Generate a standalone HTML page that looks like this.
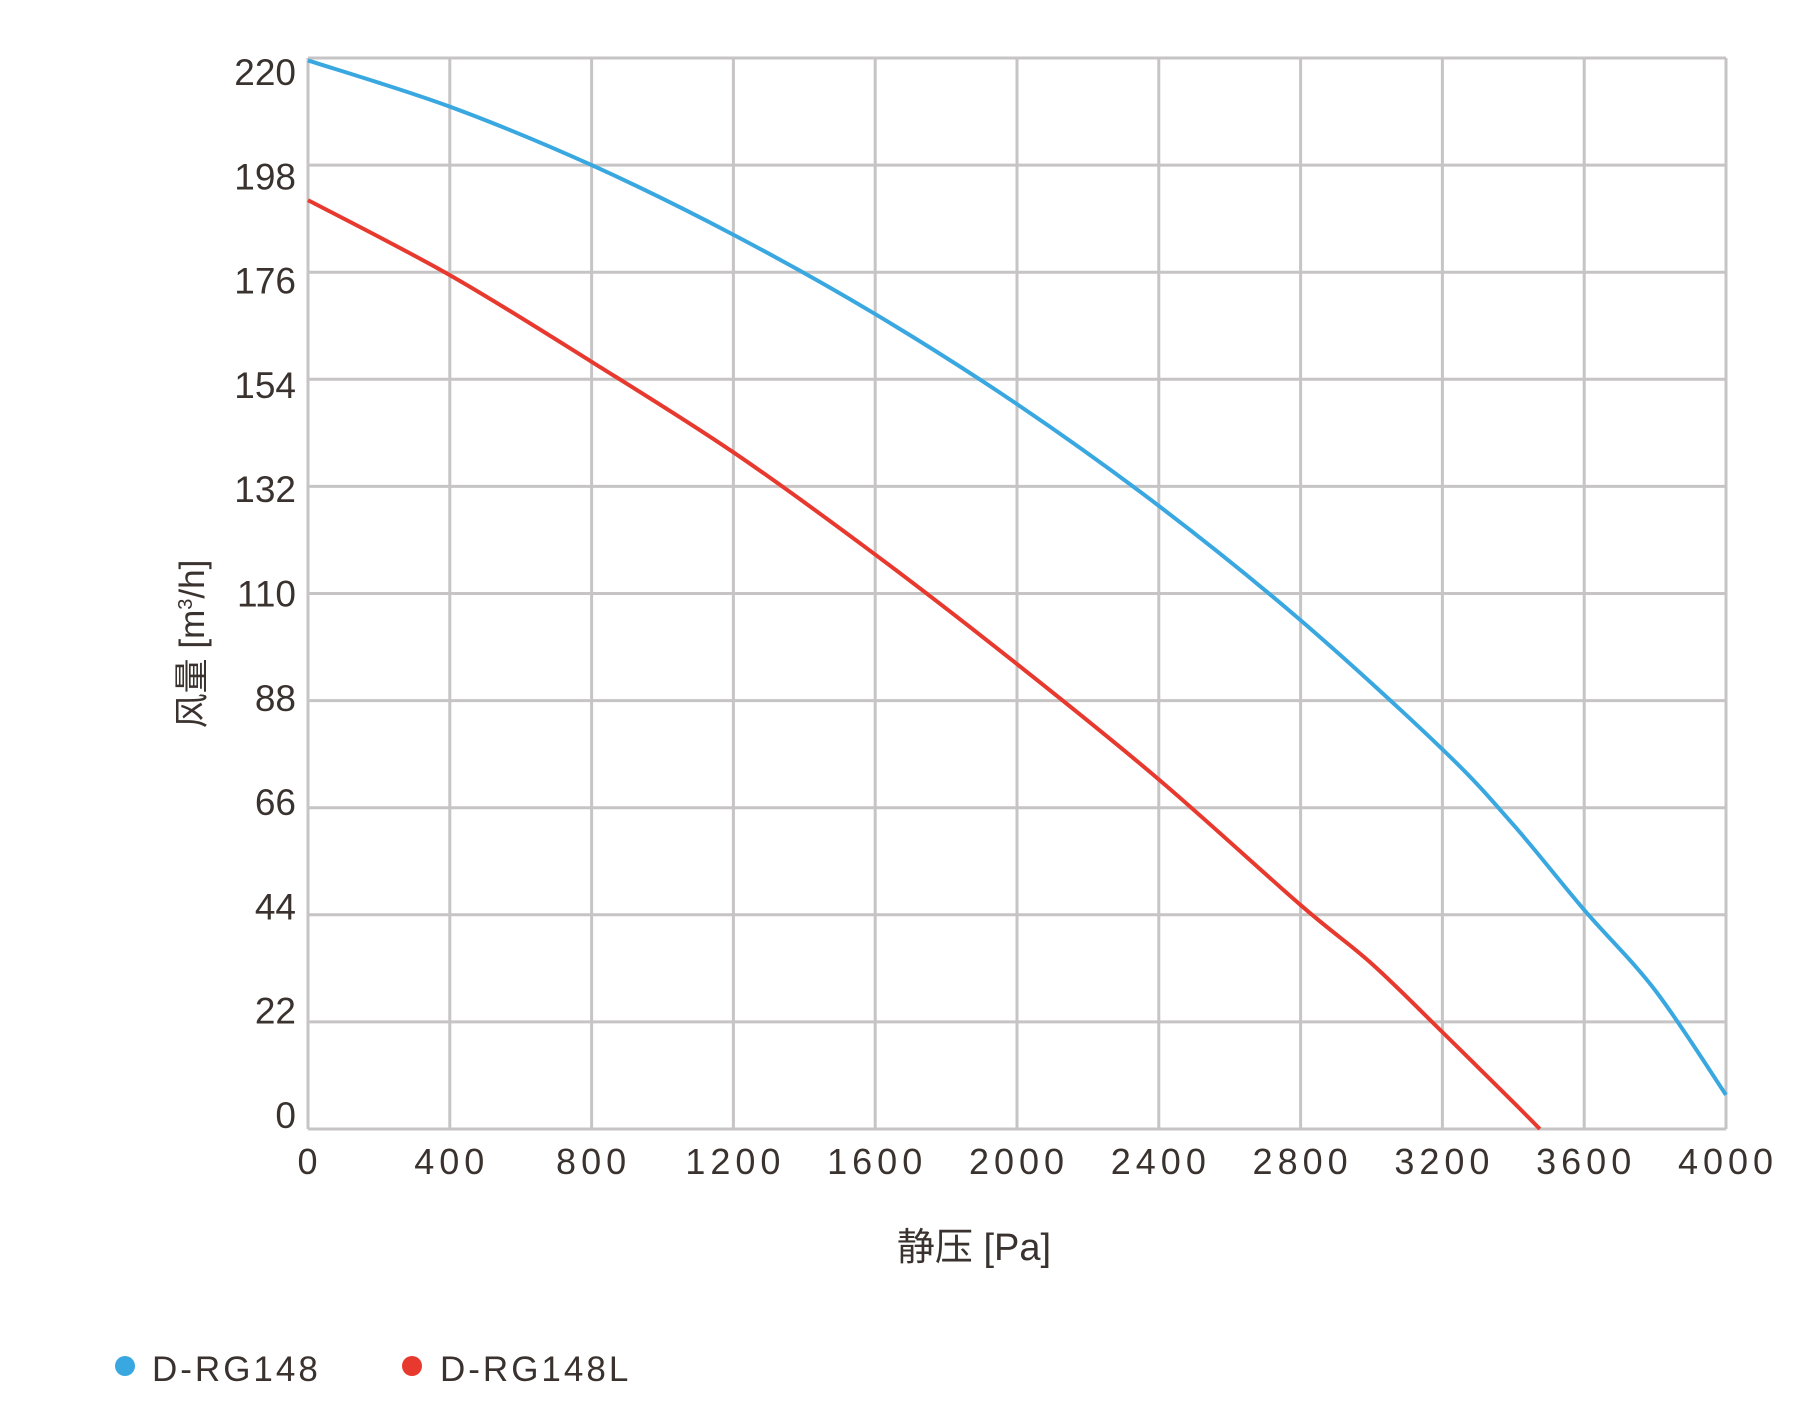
<!DOCTYPE html>
<html><head><meta charset="utf-8"><style>
html,body{margin:0;padding:0;background:#fff;width:1809px;height:1425px;overflow:hidden}
text{font-family:"Liberation Sans","Noto Sans CJK SC",sans-serif;fill:#3a322e}
</style></head><body>
<svg id="chart" width="1809" height="1425" viewBox="0 0 1809 1425" xmlns="http://www.w3.org/2000/svg">
<g id="grid"></g>
<g id="series"></g>
<g id="labels"></g>
<text x="974" y="1260" font-size="38" text-anchor="middle">静压 [Pa]</text>
<text transform="translate(204,644) rotate(-90)" font-size="35" text-anchor="middle">风量 [m<tspan font-size="20" dy="-12">3</tspan><tspan dy="12">/h]</tspan></text>
<g>
<circle cx="125" cy="1366" r="10" fill="#3aa8e0"/>
<text x="152" y="1381" font-size="35" letter-spacing="3">D-RG148</text>
<circle cx="412" cy="1366" r="10" fill="#e8392f"/>
<text x="440" y="1381" font-size="35" letter-spacing="3">D-RG148L</text>
</g>
</svg>
<script>
const xTicks=[0,400,800,1200,1600,2000,2400,2800,3200,3600,4000];
const yTicks=[0,22,44,66,88,110,132,154,176,198,220];
const blueX=[0,400,800,1200,1600,2000,2400,2800,3200,3400,3600,3800,4000];
const blueY=[219.5,210,198,183.7,167.4,148.9,128,104.5,78,62.5,45,28.5,7];
const redX=[0,400,800,1200,1600,2000,2400,2800,3000,3200,3400,3475];
const redY=[190.8,175.4,157.6,139,118,95.5,71.8,46,34,19.9,5.5,0];
const L=308,R=1726,T=58,B=1129;
const sx=v=>L+(v-0)/(4000-0)*(R-L);
const sy=v=>B-(v-0)/(220-0)*(B-T);
const NS="http://www.w3.org/2000/svg";
const grid=document.getElementById('grid'),lab=document.getElementById('labels'),ser=document.getElementById('series');
xTicks.forEach(v=>{
 const l=document.createElementNS(NS,'line');
 
 
 l.setAttribute('x1',sx(v));l.setAttribute('x2',sx(v));l.setAttribute('y1',T);l.setAttribute('y2',B);
 l.setAttribute('stroke','#c6c4c4');l.setAttribute('stroke-width','3');grid.appendChild(l);
 const t=document.createElementNS(NS,'text');
 
 
 t.setAttribute('x',sx(v)+2);t.setAttribute('y',1174);t.setAttribute('font-size','36');t.setAttribute('text-anchor','middle');t.setAttribute('letter-spacing','5');
 t.textContent=v;lab.appendChild(t);
});
yTicks.forEach((v,k)=>{
 const l=document.createElementNS(NS,'line');
 
 
 l.setAttribute('x1',L);l.setAttribute('x2',R);l.setAttribute('y1',sy(v));l.setAttribute('y2',sy(v));
 l.setAttribute('stroke','#c6c4c4');l.setAttribute('stroke-width','3');grid.appendChild(l);
 const i=yTicks.length-1-k;
 const t=document.createElementNS(NS,'text');
 
 
 t.setAttribute('x',296);t.setAttribute('y',sy(v)+14-i*2.8+13);t.setAttribute('font-size','37');t.setAttribute('text-anchor','end');
 t.textContent=v;lab.appendChild(t);
});
function path(xs,ys,color,name){
 const p=document.createElementNS(NS,'path');
 
 
 let d='M'+sx(xs[0])+','+sy(ys[0]);
 for(let i=0;i<xs.length-1;i++){
  const x0=sx(xs[Math.max(i-1,0)]),y0=sy(ys[Math.max(i-1,0)]);
  const x1=sx(xs[i]),y1=sy(ys[i]),x2=sx(xs[i+1]),y2=sy(ys[i+1]);
  const j=Math.min(i+2,xs.length-1),x3=sx(xs[j]),y3=sy(ys[j]);
  d+=' C'+(x1+(x2-x0)/6)+','+(y1+(y2-y0)/6)+' '+(x2-(x3-x1)/6)+','+(y2-(y3-y1)/6)+' '+x2+','+y2;
 }
 p.setAttribute('d',d);p.setAttribute('fill','none');p.setAttribute('stroke',color);p.setAttribute('stroke-width','4');
 ser.appendChild(p);
}
path(blueX,blueY,'#3aa8e0','series-d-rg148');
path(redX,redY,'#e8392f','series-d-rg148l');
</script>
</body></html>
